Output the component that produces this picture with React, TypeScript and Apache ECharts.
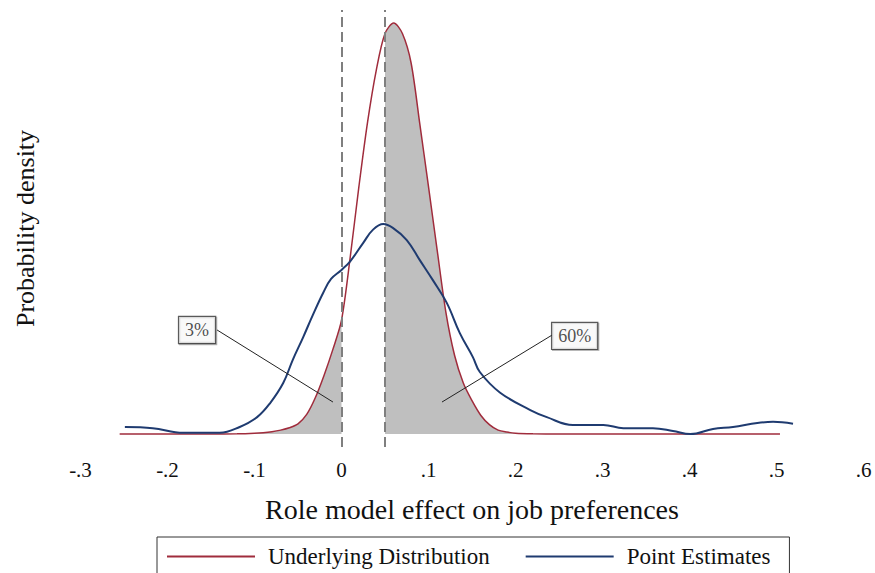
import React, { useEffect, useRef } from 'react';
import * as echarts from 'echarts';

const FONT = 'Liberation Serif';

// x axis ticks
const xTicks = [-0.3, -0.2, -0.1, 0, 0.1, 0.2, 0.3, 0.4, 0.5, 0.6];
const xTickLabels = ['-.3', '-.2', '-.1', '0', '.1', '.2', '.3', '.4', '.5', '.6'];

// Underlying distribution (red)
const redX = [-0.255, -0.15, -0.12, -0.10, -0.09, -0.08, -0.07, -0.06, -0.05, -0.04, -0.03, -0.02, -0.01, 0, 0.01, 0.02, 0.03, 0.04, 0.05, 0.06, 0.07, 0.08, 0.09, 0.10, 0.11, 0.12, 0.13, 0.14, 0.15, 0.16, 0.17, 0.18, 0.19, 0.20, 0.22, 0.25, 0.504];
const redY = [0, 0, 0.005, 0.02, 0.035, 0.06, 0.10, 0.16, 0.26, 0.5, 0.93, 1.5, 2.15, 2.9, 4.5, 6.3, 7.95, 9.27, 10.2, 10.47, 10.2, 9.45, 7.9, 6.3, 4.68, 3.1, 2.0, 1.3, 0.85, 0.48, 0.24, 0.10, 0.05, 0.02, 0.005, 0, 0];

// Point estimates (blue)
const blueX = [-0.249, -0.217, -0.182, -0.140, -0.117, -0.097, -0.082, -0.067, -0.056, -0.044, -0.033, -0.021, -0.012, 0.000, 0.010, 0.025, 0.036, 0.048, 0.059, 0.075, 0.090, 0.105, 0.121, 0.136, 0.151, 0.159, 0.182, 0.217, 0.236, 0.266, 0.301, 0.324, 0.358, 0.381, 0.401, 0.427, 0.450, 0.478, 0.496, 0.519];
const blueY = [0.18, 0.15, 0.03, 0.03, 0.18, 0.43, 0.79, 1.30, 1.89, 2.47, 3.03, 3.60, 3.95, 4.18, 4.40, 4.87, 5.20, 5.35, 5.25, 4.94, 4.43, 3.92, 3.34, 2.57, 1.96, 1.58, 1.06, 0.61, 0.43, 0.23, 0.23, 0.15, 0.15, 0.08, 0.0, 0.13, 0.18, 0.28, 0.31, 0.26];

// reference lines
const refLines = [0, 0.05];
const shadeLeftMax = 0;
const shadeRightMin = 0.05;

// annotations
const annotTexts = ['3%', '60%'];
const annotBox = [[-0.166, 2.65], [0.268, 2.5]];
const annotFrom = [[-0.143, 2.65], [0.242, 2.52]];
const annotTo = [[-0.0098, 0.815], [0.1155, 0.815]];

const seriesNames = ['Underlying Distribution', 'Point Estimates'];

export default function App() {
  const ref = useRef<HTMLDivElement>(null);
  useEffect(() => {
    const chart = echarts.init(ref.current!, null, { renderer: 'svg' });
    const red = redX.map((x, i) => [x, redY[i]]);
    const blue = blueX.map((x, i) => [x, blueY[i]]);
    const leftFill = red.filter((p) => p[0] <= shadeLeftMax);
    const rightFill = red.filter((p) => p[0] >= shadeRightMin);
    const RED = '#a02c3c';
    const BLUE = '#1f3b70';
    const GRAY = '#bfbfbf';

    const option: any = {
      animation: false,
      backgroundColor: '#fff',
      textStyle: { fontFamily: FONT },
      grid: { left: 80.5, right: 11.5, top: 10, bottom: 126, containLabel: false },
      xAxis: {
        type: 'value',
        min: -0.3,
        max: 0.6,
        interval: 0.1,
        axisLine: { show: false },
        axisTick: { show: false },
        splitLine: { show: false },
        axisLabel: {
          margin: 12,
          fontFamily: FONT,
          fontSize: 21,
          color: '#111',
          formatter: (v: number) => {
            const idx = xTicks.findIndex((t) => Math.abs(t - v) < 1e-6);
            return idx >= 0 ? xTickLabels[idx] : '';
          },
        },
        name: 'Role model effect on job preferences',
        nameLocation: 'middle',
        nameGap: 48,
        nameTextStyle: { fontFamily: FONT, fontSize: 28, color: '#111' },
      },
      yAxis: {
        type: 'value',
        min: -0.33,
        max: 10.8,
        axisLine: { show: false },
        axisTick: { show: false },
        axisLabel: { show: false },
        splitLine: { show: false },
        name: 'Probability density',
        nameLocation: 'middle',
        nameGap: 42,
        nameTextStyle: { fontFamily: FONT, fontSize: 26, color: '#111' },
      },
      legend: {
        data: seriesNames,
        left: 157,
        top: 537,
        icon: 'rect',
        itemWidth: 88,
        itemHeight: 2,
        itemGap: 36,
        padding: [8, 19, 8, 10],
        borderColor: '#333',
        borderWidth: 1,
        textStyle: { fontFamily: FONT, fontSize: 23, color: '#111', padding: [0, 0, 0, 8] },
      },
      series: [
        {
          type: 'line',
          name: 'fillLeft',
          data: leftFill,
          smooth: 0.3,
          symbol: 'none',
          lineStyle: { width: 0 },
          areaStyle: { color: GRAY, opacity: 1 },
          silent: true,
          z: 1,
        },
        {
          type: 'line',
          name: 'fillRight',
          data: rightFill,
          smooth: 0.3,
          symbol: 'none',
          lineStyle: { width: 0 },
          areaStyle: { color: GRAY, opacity: 1 },
          silent: true,
          z: 1,
          markLine: {
            silent: true,
            symbol: ['none', 'none'],
            label: { show: false },
            lineStyle: { color: '#7f7f7f', width: 2, type: [10, 5] },
            data: refLines.map((x) => ({ xAxis: x })),
          },
        },
        {
          type: 'line',
          name: seriesNames[0],
          data: red,
          smooth: 0.3,
          symbol: 'none',
          color: RED,
          itemStyle: { color: RED },
          lineStyle: { color: RED, width: 1.5 },
          z: 3,
        },
        {
          type: 'line',
          name: seriesNames[1],
          data: blue,
          smooth: 0.4,
          symbol: 'none',
          color: BLUE,
          itemStyle: { color: BLUE },
          lineStyle: { color: BLUE, width: 2 },
          z: 4,
        },
        {
          type: 'scatter',
          name: 'annotations',
          symbol: 'rect',
          symbolSize: 0,
          silent: true,
          z: 6,
          data: annotTexts.map((t, i) => ({ value: annotBox[i], name: t })),
          label: {
            show: true,
            position: 'inside',
            formatter: (p: any) => p.name,
            fontFamily: FONT,
            fontSize: 18,
            color: '#222',
            backgroundColor: '#fff',
            borderColor: '#333',
            borderWidth: 1.2,
            padding: [5, 6, 3, 6],
            shadowColor: 'rgba(0,0,0,0.35)',
            shadowOffsetX: 1,
            shadowOffsetY: 1,
          },
          markLine: {
            silent: true,
            symbol: ['none', 'none'],
            label: { show: false },
            lineStyle: { color: '#222', width: 1, type: 'solid' },
            data: annotTexts.map((_, i) => [{ coord: annotFrom[i] }, { coord: annotTo[i] }]),
          },
        },
      ],
    };
    chart.setOption(option);
    return () => chart.dispose();
  }, []);
  return (
    <div
      ref={ref}
      style={{ position: 'fixed', left: 0, top: 0, width: 875, height: 573, background: '#fff' }}
    />
  );
}
